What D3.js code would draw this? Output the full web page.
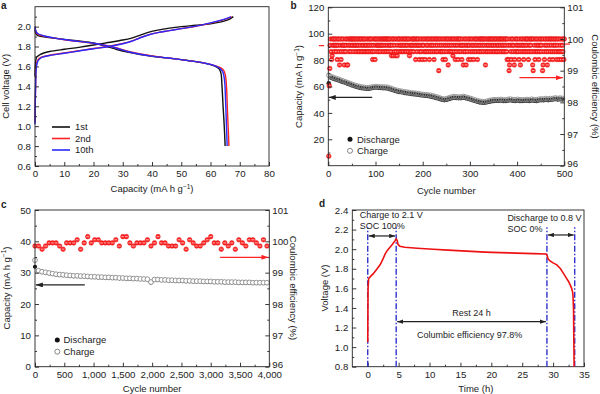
<!DOCTYPE html>
<html><head><meta charset="utf-8">
<script src="https://cdn.jsdelivr.net/npm/d3@7"></script>
<style>body{margin:0;background:#fff}svg{display:block}</style>
</head><body><svg width="600" height="394"></svg>
<script>
// ---------------- DATA ----------------
// Panel a: [capacity (mA h g-1), voltage (V)]
const aCharge1 = [[0,1.5],[0.15,1.62],[0.5,1.69],[1.5,1.715],[3,1.735],[5,1.75],[10,1.772],[15,1.792],[20,1.815],[25,1.84],[30,1.865],[33,1.885],[36,1.915],[39,1.945],[42,1.965],[46,1.985],[50,2.0],[55,2.013],[60,2.028],[64,2.05],[66.5,2.075],[67.8,2.1]];
const aCharge2 = [[0,1.04],[0.2,1.4],[0.5,1.62],[1,1.665],[2,1.69],[3,1.7],[5,1.713],[10,1.735],[15,1.757],[20,1.78],[25,1.8],[30,1.83],[33,1.855],[36,1.89],[39,1.92],[42,1.94],[46,1.96],[50,1.98],[55,2.003],[60,2.035],[64,2.065],[66.5,2.09],[67.2,2.1]];
const aCharge10 = [[0,1.02],[0.2,1.38],[0.5,1.6],[1,1.655],[2,1.685],[3,1.697],[5,1.71],[10,1.733],[15,1.755],[20,1.778],[25,1.798],[30,1.828],[33,1.853],[36,1.888],[39,1.918],[42,1.94],[46,1.96],[50,1.98],[55,2.005],[60,2.038],[64,2.068],[66.5,2.092],[67.0,2.1]];
const aDis1 = [[0,1.97],[0.3,1.93],[1,1.91],[3,1.897],[6,1.885],[10,1.872],[15,1.855],[20,1.835],[24,1.805],[28,1.77],[32,1.742],[36,1.72],[40,1.703],[45,1.686],[50,1.668],[55,1.648],[58,1.633],[60,1.618],[62,1.596],[63,1.573],[63.6,1.53],[63.9,1.42],[64.3,1.2],[64.7,1.0],[65.0,0.8]];
const aDis2 = [[0,2.0],[0.3,1.95],[1,1.925],[3,1.905],[6,1.888],[10,1.868],[15,1.85],[20,1.832],[24,1.813],[28,1.785],[32,1.75],[36,1.725],[40,1.705],[45,1.687],[50,1.668],[55,1.648],[58,1.633],[60,1.62],[62,1.603],[63.5,1.585],[64.5,1.56],[65.1,1.51],[65.5,1.38],[65.8,1.15],[66.1,0.95],[66.3,0.8]];
const aDis10 = [[0,2.0],[0.3,1.955],[1,1.928],[3,1.908],[6,1.89],[10,1.87],[15,1.852],[20,1.833],[24,1.812],[28,1.783],[32,1.748],[36,1.723],[40,1.704],[45,1.687],[50,1.668],[55,1.648],[58,1.633],[60,1.62],[62,1.6],[63.3,1.578],[64.2,1.545],[64.8,1.46],[65.1,1.3],[65.4,1.05],[65.7,0.8]];
const aLegend = ["1st","2nd","10th"];

// Panel b: capacity every 5 cycles starting at cycle 1
const bCycleStep = 5;
const bCharge = [68.5,67.5,66.8,66.2,65.6,65.0,64.3,63.6,63.0,62.3,
 61.6,61.0,60.5,60.0,59.6,59.4,59.2,59.2,59.5,59.8,
 60.0,59.9,59.7,59.6,59.6,59.4,58.8,58.2,57.6,57.1,
 56.7,56.4,56.0,55.8,55.5,55.2,55.0,54.9,54.6,54.2,
 54.0,53.9,53.6,53.4,53.0,52.5,52.0,51.4,50.8,50.5,
 50.9,51.5,52.0,52.4,52.2,52.0,52.1,52.5,52.1,51.5,
 51.0,50.4,49.8,49.3,48.9,48.6,48.5,48.9,49.4,49.8,
 50.0,50.0,50.1,50.3,50.0,49.9,50.3,50.5,50.1,49.9,
 50.3,50.0,49.9,50.0,50.2,50.0,50.4,50.1,50.0,50.4,
 50.6,50.5,50.9,50.6,50.9,51.0,51.4,51.0,51.3,51.0];
const bDischarge = [62.5,66.6,65.9,65.3,64.8,64.1,63.4,62.8,62.1,61.5,
 60.8,60.2,59.6,59.1,58.8,58.5,58.4,58.3,58.7,59.0,
 59.2,59.0,58.9,58.8,58.7,58.5,58.0,57.3,56.8,56.3,
 55.8,55.6,55.2,54.9,54.7,54.4,54.2,54.0,53.7,53.4,
 53.2,53.0,52.8,52.5,52.1,51.6,51.1,50.6,50.0,49.7,
 50.0,50.6,51.1,51.5,51.3,51.2,51.2,51.6,51.2,50.7,
 50.1,49.6,49.0,48.4,48.0,47.8,47.7,48.1,48.5,48.9,
 49.1,49.2,49.2,49.4,49.1,49.0,49.4,49.6,49.2,49.0,
 49.4,49.1,49.0,49.2,49.3,49.1,49.5,49.2,49.1,49.5,
 49.7,49.6,50.0,49.7,50.0,50.1,50.5,50.1,50.4,50.1];
// Coulombic efficiency per cycle (1..500), coded by level
const bCeLevels = {"0":100.0,"1":99.8,"2":99.6,"3":99.47,"4":99.35,"5":99.18,"6":99.0,"a":96.3,"b":98.52,"c":99.07};
const bCeCodes = [
"abc1024301","0120102140","1025014201","0125102105","5012010201",
"0102010120","1021020102","0120102012","1020120102","0124012040",
"1021012010","2101020102","0102010201","0123010302","1032031020",
"0121020120","1020120102","0312012010","2010410201","0142012041",
"0120420120","1024012010","2104201020","1206012021","0240120410",
"2015021020","1203012041","0201402010","2140152012","0510214010",
"2401201420","1020140210","2010201020","1052012010","2010201021",
"0201020120","1020102010","2102010240","1465012401","0215402012",
"0124015201","0214021020","1024012010","2056021402","0120142010",
"2106502410","0215020140","2010240120","1024012042","0124012040"].join("");

// Panel c: every 60 cycles from 0
const cCycleStep = 60;
const cCharge = [34.0,30.6,30.3,30.1,29.9,29.7,29.5,29.4,29.3,29.2,
 29.1,29.0,29.0,28.9,28.9,28.8,28.7,28.7,28.6,28.6,
 28.5,28.5,28.4,28.4,28.3,28.3,28.2,28.2,28.1,28.1,
 28.0,28.0,27.9,27.0,27.8,27.8,27.7,27.7,27.6,27.6,
 27.5,27.5,27.5,27.4,27.4,27.3,27.3,27.3,27.2,27.2,
 27.2,27.1,27.1,27.1,27.0,27.0,27.0,27.0,26.9,26.9,
 26.9,26.9,26.8,26.8,26.8,26.8,26.8];
const cDischarge = [31.9,30.5,30.2,30.0,29.8,29.6,29.4,29.3,29.2,29.1,
 29.0,28.9,28.9,28.8,28.8,28.7,28.6,28.6,28.5,28.5,
 28.4,28.4,28.3,28.3,28.2,28.2,28.1,28.1,28.0,28.0,
 27.9,27.9,27.8,26.9,27.7,27.7,27.6,27.6,27.5,27.5,
 27.4,27.4,27.4,27.3,27.3,27.2,27.2,27.2,27.1,27.1,
 27.1,27.0,27.0,27.0,26.9,26.9,26.9,26.9,26.8,26.8,
 26.8,26.8,26.7,26.7,26.7,26.7,26.7];
const cCE = [99.85,99.85,99.75,99.85,99.95,99.95,99.95,99.85,99.75,99.95,
 99.95,99.95,100.05,99.75,99.95,100.15,99.95,100.05,100.05,99.95,
 99.95,99.95,99.95,100.05,99.85,100.15,100.15,99.95,99.85,99.95,
 99.95,99.95,100.05,99.85,99.95,100.15,99.95,99.95,99.85,99.85,
 99.85,100.05,99.95,99.75,100.05,99.95,99.85,99.85,99.95,100.05,
 100.15,99.95,99.95,99.75,99.95,99.85,99.95,99.75,100.05,99.95,
 99.85,100.05,100.05,99.95,99.85,100.05,99.85];

// Panel d: time (h), voltage (V)
const dTime = [0,0.02,0.05,0.15,0.5,0.9,1.4,2.0,2.4,2.8,3.2,3.6,4.0,4.4,4.6,4.75,4.9,5.2,6.0,8,10.6,13,16,19,21.4,24,26.8,28.9,29.05,29.2,29.5,30.0,30.6,31.2,31.7,32.1,32.5,32.8,33.0,33.2,33.3,33.35,33.4];
const dVolt = [1.05,1.3,1.6,1.7,1.725,1.75,1.79,1.84,1.89,1.95,1.99,2.02,2.05,2.085,2.105,2.09,2.05,2.03,2.02,2.01,2.0,1.99,1.98,1.97,1.965,1.96,1.955,1.95,1.93,1.9,1.88,1.86,1.84,1.8,1.75,1.71,1.67,1.63,1.6,1.55,1.4,1.1,0.8];
const dMarkers = [0, 4.6, 29.0, 33.5];

// ---------------- RENDER ----------------
const FONT = '"Liberation Sans", Arial, Helvetica, sans-serif';
const RED = "#ff2222", BLUE = "#2a2aff", INK = "#222";
const TICK_FS = 9.7;
const svg = d3.select("svg");
const defs = svg.append("defs");
function mk(id, color, w, h){
  defs.append("marker").attr("id", id).attr("viewBox", `0 0 ${w} ${h}`)
    .attr("refX", w).attr("refY", h/2).attr("markerWidth", w).attr("markerHeight", h)
    .attr("markerUnits", "userSpaceOnUse").attr("orient", "auto-start-reverse")
    .append("path").attr("d", `M0,0L${w},${h/2}L0,${h}Z`).attr("fill", color);
}
mk("ahK", INK, 7, 5); mk("ahR", RED, 7, 5); mk("ahD", INK, 6, 4.4);

function drawAxes(o){
  const [xl, xr] = o.x.range(), [yb, yt] = o.y.range();
  const style = s => {
    s.select(".domain").remove();
    s.attr("font-family", FONT).attr("font-size", TICK_FS);
    s.selectAll("text").attr("fill", INK);
    s.selectAll("line").attr("stroke", INK).attr("stroke-width", 0.9);
  };
  const add = (t, ax) => svg.append("g").attr("transform", t).call(ax).call(style);
  add(`translate(0,${yb})`, d3.axisBottom(o.x).tickValues(o.xTicks).tickFormat(o.xFmt).tickSizeInner(-4).tickSizeOuter(0).tickPadding(4));
  add(`translate(0,${yb})`, d3.axisBottom(o.x).tickValues(o.xMinor).tickFormat("").tickSizeInner(-2).tickSizeOuter(0));
  add(`translate(${xl},0)`, d3.axisLeft(o.y).tickValues(o.yTicks).tickFormat(o.yFmt).tickSizeInner(-4).tickSizeOuter(0).tickPadding(4));
  add(`translate(${xl},0)`, d3.axisLeft(o.y).tickValues(o.yMinor).tickFormat("").tickSizeInner(-2).tickSizeOuter(0));
  if (o.y2){
    const r = add(`translate(${xr},0)`, d3.axisRight(o.y2).tickValues(o.y2Ticks).tickFormat(d3.format("d")).tickSizeInner(-4).tickSizeOuter(0).tickPadding(3));
    // lift the lowest label a touch so it clears the bottom tick labels
    r.selectAll(".tick").filter(d => d === o.y2Ticks[0]).select("text").attr("dy", "0.05em");
    add(`translate(${xr},0)`, d3.axisRight(o.y2).tickValues(o.y2Minor).tickFormat("").tickSizeInner(-2).tickSizeOuter(0));
  }
  svg.append("rect").attr("x", xl).attr("y", yt).attr("width", xr-xl).attr("height", yb-yt)
    .attr("fill", "none").attr("stroke", INK).attr("stroke-width", 0.9);
}
function txt(x, y, s, o={}){
  return svg.append("text").attr("x", x).attr("y", y).attr("font-family", FONT)
    .attr("font-size", o.size || 9).attr("fill", INK).attr("text-anchor", o.anchor || "start")
    .attr("font-weight", o.weight || null).text(s);
}
function vTitle(x, yc, s, rot){
  return svg.append("text").attr("transform", `translate(${x},${yc}) rotate(${rot})`)
    .attr("text-anchor", "middle").attr("font-family", FONT).attr("font-size", 9.5).attr("fill", INK).text(s);
}
function capTitle(x, yc, rot, horizontal){
  const t = horizontal
    ? svg.append("text").attr("x", x).attr("y", yc)
    : svg.append("text").attr("transform", `translate(${x},${yc}) rotate(${rot})`);
  t.attr("text-anchor", "middle").attr("font-family", FONT).attr("font-size", 9.5).attr("fill", INK);
  t.append("tspan").text("Capacity (mA h g");
  t.append("tspan").attr("dy", -3.5).attr("font-size", 6.5).text("−1");
  t.append("tspan").attr("dy", 3.5).text(")");
}
function redMark(g, cx, cy){
  g.append("circle").attr("cx", cx).attr("cy", cy).attr("r", 2.3).attr("fill", RED).attr("stroke", "#e01010").attr("stroke-width", 0.5);
  g.append("line").attr("x1", cx-1.4).attr("x2", cx+1.4).attr("y1", cy).attr("y2", cy).attr("stroke", "#ffd0d0").attr("stroke-width", 0.8);
}
function arrow(x1, y1, x2, y2, color, m, both){
  const l = svg.append("line").attr("x1", x1).attr("y1", y1).attr("x2", x2).attr("y2", y2)
    .attr("stroke", color).attr("stroke-width", 1.2).attr("marker-end", `url(#${m})`);
  if (both) l.attr("marker-start", `url(#${m})`);
}

// ===== Panel a =====
{
  const x = d3.scaleLinear().domain([0, 80]).range([35, 269]);
  const y = d3.scaleLinear().domain([0.6, 2.2]).range([166, 6.7]);
  const line = d3.line().x(d => x(d[0])).y(d => y(d[1])).curve(d3.curveCatmullRom.alpha(0.5));
  const cols = ["#111", RED, BLUE];
  [[aCharge1, aDis1], [aCharge2, aDis2], [aCharge10, aDis10]].forEach(([c, dd], k) => {
    [c, dd].forEach(s => svg.append("path").attr("d", line(s)).attr("fill", "none").attr("stroke", cols[k]).attr("stroke-width", 1.4));
  });
  drawAxes({x, y, xTicks: d3.range(0, 81, 10), xMinor: d3.range(5, 80, 10), xFmt: d3.format("d"),
    yTicks: d3.range(6, 21, 2).map(v => v/10), yMinor: d3.range(7, 22, 2).map(v => v/10), yFmt: d3.format(".1f")});
  aLegend.forEach((s, i) => {
    const yy = 127 + i*11.5;
    svg.append("line").attr("x1", 52).attr("x2", 70).attr("y1", yy).attr("y2", yy).attr("stroke", cols[i]).attr("stroke-width", 1.6);
    txt(75, yy + 3.2, s, {size: 9.5});
  });
  vTitle(8.5, (y.range()[0]+y.range()[1])/2, "Cell voltage (V)", -90);
  capTitle((x.range()[0]+x.range()[1])/2, 192, 0, true);
  txt(1, 9, "a", {size: 10, weight: "bold"});
}

// ===== Panel b =====
{
  const x = d3.scaleLinear().domain([0, 500]).range([328.3, 564.3]);
  const y = d3.scaleLinear().domain([0, 120]).range([165.7, 7.3]);
  const y2 = d3.scaleLinear().domain([96, 101]).range([165.7, 7.3]);
  const gC = svg.append("g");
  bDischarge.forEach((v, i) => gC.append("circle").attr("cx", x(1 + i*bCycleStep)).attr("cy", y(v)).attr("r", 2.3).attr("fill", "#2a2a2a"));
  bCharge.forEach((v, i) => gC.append("circle").attr("cx", x(1 + i*bCycleStep)).attr("cy", y(v)).attr("r", 2.3).attr("fill", "none").attr("stroke", "#8a8a8a").attr("stroke-width", 0.8));
  const gR = svg.append("g");
  bCeCodes.split("").forEach((c, i) => redMark(gR, x(i+1), y2(bCeLevels[c])));
  svg.append("line").attr("x1", x(-20)).attr("x2", x(-9)).attr("y1", y2(99.79)).attr("y2", y2(99.79)).attr("stroke", RED).attr("stroke-width", 1.2);
  svg.append("line").attr("x1", x(501)).attr("x2", x(512)).attr("y1", y2(99.84)).attr("y2", y2(99.84)).attr("stroke", RED).attr("stroke-width", 1.2);
  drawAxes({x, y, y2, xTicks: d3.range(0, 501, 100), xMinor: d3.range(50, 500, 100), xFmt: d3.format("d"),
    yTicks: d3.range(20, 121, 20), yMinor: d3.range(10, 120, 20), yFmt: d3.format("d"),
    y2Ticks: d3.range(96, 102, 1), y2Minor: d3.range(96.5, 101, 1)});
  arrow(x(93), y(51.7), x(1), y(51.7), INK, "ahK");
  arrow(x(405), y2(98.78), x(497), y2(98.78), RED, "ahR");
  svg.append("circle").attr("cx", 350).attr("cy", y(20)).attr("r", 2.5).attr("fill", "#111");
  txt(357, y(20) + 3.3, "Discharge", {size: 9.5});
  svg.append("circle").attr("cx", 350).attr("cy", y(11.3)).attr("r", 2.5).attr("fill", "none").attr("stroke", "#777").attr("stroke-width", 0.9);
  txt(357, y(11.3) + 3.3, "Charge", {size: 9.5});
  capTitle(302, 86.5, -90, false);
  vTitle(592, 86.5, "Coulombic efficiency (%)", 90);
  txt((x.range()[0]+x.range()[1])/2, 194, "Cycle number", {size: 9.5, anchor: "middle"});
  txt(290.5, 9, "b", {size: 10, weight: "bold"});
}

// ===== Panel c =====
{
  const x = d3.scaleLinear().domain([0, 4000]).range([35, 269.3]);
  const y = d3.scaleLinear().domain([0, 50]).range([366.7, 210]);
  const y2 = d3.scaleLinear().domain([96, 101]).range([366.7, 210]);
  const g = svg.append("g");
  cDischarge.forEach((v, i) => g.append("circle").attr("cx", x(i*cCycleStep)).attr("cy", y(v)).attr("r", 2.1).attr("fill", "#111"));
  cCharge.forEach((v, i) => g.append("circle").attr("cx", x(i*cCycleStep)).attr("cy", y(v)).attr("r", 2.4).attr("fill", "#fff").attr("stroke", "#8a8a8a").attr("stroke-width", 0.9));
  g.select("circle").raise();
  const gR = svg.append("g");
  cCE.forEach((v, i) => redMark(gR, x(i*cCycleStep), y2(v)));
  drawAxes({x, y, y2, xTicks: d3.range(0, 4001, 500), xMinor: d3.range(250, 4000, 500), xFmt: d3.format(","),
    yTicks: d3.range(0, 51, 10), yMinor: d3.range(5, 50, 10), yFmt: d3.format("d"),
    y2Ticks: d3.range(96, 102, 1), y2Minor: d3.range(96.5, 101, 1)});
  arrow(x(850), y(26.1), x(15), y(26.1), INK, "ahK");
  arrow(x(3160), y2(99.49), x(3985), y2(99.49), RED, "ahR");
  svg.append("circle").attr("cx", 57.3).attr("cy", y(8.5)).attr("r", 2.5).attr("fill", "#111");
  txt(63.5, y(8.5) + 3.3, "Discharge", {size: 9.5});
  svg.append("circle").attr("cx", 57.3).attr("cy", y(4.8)).attr("r", 2.5).attr("fill", "none").attr("stroke", "#777").attr("stroke-width", 0.9);
  txt(63.5, y(4.8) + 3.3, "Charge", {size: 9.5});
  capTitle(9.5, 288, -90, false);
  vTitle(290, 288, "Coulombic efficiency (%)", 90);
  txt((x.range()[0]+x.range()[1])/2, 391.5, "Cycle number", {size: 9.5, anchor: "middle"});
  txt(1, 208, "c", {size: 10, weight: "bold"});
}

// ===== Panel d =====
{
  const x = d3.scaleLinear().domain([-2.5, 35]).range([352.3, 584]);
  const y = d3.scaleLinear().domain([0.8, 2.4]).range([366.7, 210]);
  drawAxes({x, y, xTicks: d3.range(0, 36, 5), xMinor: d3.range(2.5, 35, 5), xFmt: d3.format("d"),
    yTicks: d3.range(8, 25, 2).map(v => v/10), yMinor: d3.range(9, 24, 2).map(v => v/10), yFmt: d3.format(".1f")});
  dMarkers.forEach(t => svg.append("line").attr("x1", x(t)).attr("x2", x(t)).attr("y1", y(0.8)).attr("y2", y(2.225))
    .attr("stroke", "#2222cc").attr("stroke-width", 1.3).attr("stroke-dasharray", "6,2,1.5,2"));
  const line = d3.line().x((d, i) => x(dTime[i])).y((d, i) => y(dVolt[i]));
  svg.append("path").attr("d", line(dTime)).attr("fill", "none").attr("stroke", "#ee1111").attr("stroke-width", 1.6);
  arrow(x(dMarkers[0]) + 1, y(2.135), x(dMarkers[1]) - 1, y(2.135), INK, "ahD", true);
  arrow(x(dMarkers[2]) + 1, y(2.145), x(dMarkers[3]) - 1, y(2.145), INK, "ahD", true);
  arrow(x(dMarkers[1]) + 1, y(1.26), x(dMarkers[2]) - 1, y(1.26), INK, "ahD", true);
  txt(x(-1.3), y(2.322), "Charge to 2.1 V");
  txt(x(-1.3), y(2.205), "SOC 100%");
  txt(x(22.6), y(2.29), "Discharge to 0.8 V");
  txt(x(22.6), y(2.18), "SOC 0%");
  txt(x(16.8), y(1.313), "Rest 24 h", {anchor: "middle"});
  txt(x(16.5), y(1.098), "Columbic efficiency 97.8%", {anchor: "middle"});
  vTitle(328, 288, "Voltage (V)", -90);
  txt((x(0)+x(35))/2, 391.5, "Time (h)", {size: 9.5, anchor: "middle"});
  txt(319, 207, "d", {size: 10, weight: "bold"});
}
</script></body></html>
